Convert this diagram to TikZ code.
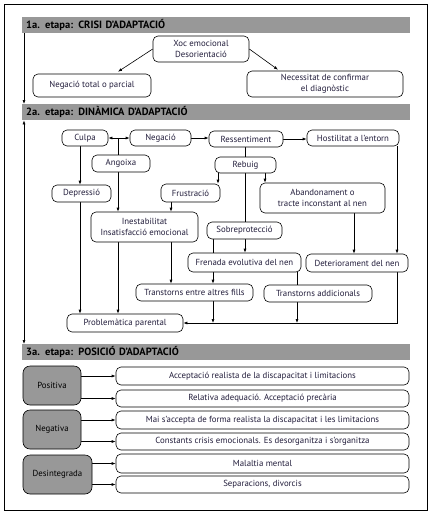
\documentclass[tikz,border=0pt]{standalone}
\usepackage{fontspec}
\setmainfont{PT Sans}
\usetikzlibrary{arrows.meta,backgrounds}
\definecolor{txt}{RGB}{35,30,60}
\definecolor{bargray}{RGB}{152,152,152}
\begin{document}
\begin{tikzpicture}[x=1pt,y=-1pt,
 bx/.style={draw, rounded corners=5pt, fill=white, inner sep=0pt, align=center, text=txt, font=\fontsize{8.8}{10.5}\selectfont, line width=0.6pt},
 gbx/.style={bx, rounded corners=7pt, fill=bargray, text=black},
 bar/.style={fill=bargray, anchor=north west, minimum height=16pt, text width=380pt, inner xsep=4pt, inner ysep=0pt, align=left, font=\bfseries\fontsize{10.5}{11}\selectfont},
 arr/.style={-{Latex[length=4pt,width=3pt]}, line width=0.6pt},
 darr/.style={{Latex[length=4pt,width=3pt]}-{Latex[length=4pt,width=3pt]}, line width=0.6pt},
 ln/.style={line width=0.6pt}
]
\useasboundingbox (0,0) rectangle (431,515);
\draw[line width=0.8pt] (4,4) rectangle (427,510);

% header bars
\node[bar] (h1) at (22,17) {1a. etapa: CRISI D’ADAPTACIÓ};
\node[bar] (h2) at (22,104) {2a. etapa: DINÀMICA D’ADAPTACIÓ};
\node[bar] (h3) at (22,344) {3a. etapa: POSICIÓ D’ADAPTACIÓ};

% stage 1
\node[bx, minimum width=96pt, minimum height=26pt] (xoc) at (201,49) {Xoc emocional\\Desorientació};
\node[bx, minimum width=118pt, minimum height=23pt] (neg1) at (92,85.5) {Negació total o parcial};
\node[bx, minimum width=156pt, minimum height=26pt] (nec) at (325,84) {Necessitat de confirmar\\el diagnòstic};

% stage 2
\node[bx, minimum width=46pt, minimum height=16pt] (culpa) at (85,138) {Culpa};
\node[bx, minimum width=61pt, minimum height=16pt] (negacio) at (160.5,138) {Negació};
\node[bx, minimum width=74pt, minimum height=16pt] (ressent) at (246,139) {Ressentiment};
\node[bx, minimum width=92pt, minimum height=16pt] (host) at (353,138) {Hostilitat a l’entorn};
\node[bx, minimum width=58pt, minimum height=17pt] (angoixa) at (121,163.5) {Angoixa};
\node[bx, minimum width=61pt, minimum height=16pt] (rebuig) at (245.5,165) {Rebuig};
\node[bx, minimum width=59pt, minimum height=17pt] (depr) at (81.5,193.5) {Depressió};
\node[bx, minimum width=59pt, minimum height=18pt] (frus) at (190.5,193) {Frustració};
\node[bx, minimum width=125pt, minimum height=30pt] (aband) at (322.5,198) {Abandonament o\\tracte inconstant al nen};
\node[bx, minimum width=107pt, minimum height=30pt] (inest) at (144.5,227) {Inestabilitat\\Insatisfacció emocional};
\node[bx, minimum width=75pt, minimum height=17pt] (sobre) at (244.5,230.5) {Sobreprotecció};
\node[bx, minimum width=113pt, minimum height=19pt] (fren) at (244.5,262.5) {Frenada evolutiva del nen};
\node[bx, minimum width=102pt, minimum height=18pt] (deter) at (357,263) {Deteriorament del nen};
\node[bx, minimum width=117pt, minimum height=17pt] (tea) at (194.5,292.5) {Transtorns entre altres fills};
\node[bx, minimum width=108pt, minimum height=17pt] (tad) at (318,293.5) {Transtorns addicionals};
\node[bx, minimum width=116pt, minimum height=18pt] (prob) at (125,323) {Problemàtica parental};
\coordinate (cn) at (118,138);

% stage 3
\node[gbx, minimum width=58pt, minimum height=39pt] (pos) at (52,385.5) {Positiva};
\node[gbx, minimum width=58pt, minimum height=39pt] (negat) at (52,429.5) {Negativa};
\node[gbx, minimum width=69pt, minimum height=39pt] (desint) at (57.5,474.5) {Desintegrada};
\node[bx, minimum width=293pt, minimum height=18pt] (r1) at (262.5,376) {Acceptació realista de la discapacitat i limitacions};
\node[bx, minimum width=293pt, minimum height=17pt] (r2) at (262.5,398.5) {Relativa adequació. Acceptació precària};
\node[bx, minimum width=293pt, minimum height=18pt] (r3) at (262.5,420) {Mai s’accepta de forma realista la discapacitat i les limitacions};
\node[bx, minimum width=293pt, minimum height=17pt] (r4) at (262.5,441.5) {Constants crisis emocionals. Es desorganitza i s’organitza};
\node[bx, minimum width=293pt, minimum height=19pt] (r5) at (262.5,463.5) {Malaltia mental};
\node[bx, minimum width=293pt, minimum height=17pt] (r6) at (262.5,484.5) {Separacions, divorcis};

\begin{pgfonlayer}{background}
% left long arrows
\draw[arr] (24,0 |- h1.south) -- (24,0 |- h2.north);
\draw[darr] (24,0 |- h2.south) -- (24,0 |- h3.north);
% stage 1
\draw[arr] (xoc.west) -- ([xshift=26pt,yshift=2pt]neg1.north);
\draw[arr] (xoc.east) -- ([xshift=-47pt,yshift=1pt]nec.north);
% stage 2
\draw[darr] (culpa.east) -- (negacio.west);
\draw[arr] (cn) -- (cn |- inest.north);
\draw[arr] (80,0 |- culpa.south) -- (80,0 |- depr.north);
\draw[arr] (80,0 |- depr.south) -- (80,0 |- prob.north);
\draw[arr] (118,0 |- inest.south) -- (118,0 |- prob.north);
\draw[arr] (171,0 |- frus.south) -- (171,0 |- inest.north);
\draw[arr] (171,0 |- inest.south) -- (171,0 |- tea.north);
\draw[arr] (negacio.east) -- (negacio.east -| ressent.west);
\draw[arr] (ressent.east) -- (ressent.east -| host.west);
\draw[ln] (245,0 |- ressent.south) -- (245,0 |- sobre.north);
\draw[arr] (218,0 |- rebuig.south) -- (218,0 |- frus.north);
\draw[arr] (265,0 |- rebuig.south) -- (265,0 |- aband.north);
\draw[arr] (397,0 |- host.south) -- (397,0 |- deter.north);
\draw[arr] (354,0 |- aband.south) -- (354,0 |- deter.north);
\draw[arr] (245,0 |- sobre.south) -- (245,0 |- fren.north);
\draw[ln] (213,0 |- sobre.south) -- (213,0 |- fren.north);
\draw[arr] (213,0 |- fren.south) -- (213,0 |- tea.north);
\draw[arr] (213,0 |- tea.south) -- (213,0 |- prob.east);
\draw[ln] (297,0 |- fren.south) -- (297,0 |- tad.north);
\draw[arr] (297,0 |- tad.south) -- (297,0 |- prob.east);
\draw[arr] (397,0 |- deter.south) |- (prob.east);
% stage 3
\draw[arr] (pos.east |- r1.west) -- (r1.west);
\draw[arr] (pos.east |- r2.west) -- (r2.west);
\draw[arr] (negat.east |- r3.west) -- (r3.west);
\draw[arr] (negat.east |- r4.west) -- (r4.west);
\draw[arr] (desint.east |- r5.west) -- (r5.west);
\draw[arr] (desint.east |- r6.west) -- (r6.west);
\end{pgfonlayer}
\end{tikzpicture}
\end{document}
